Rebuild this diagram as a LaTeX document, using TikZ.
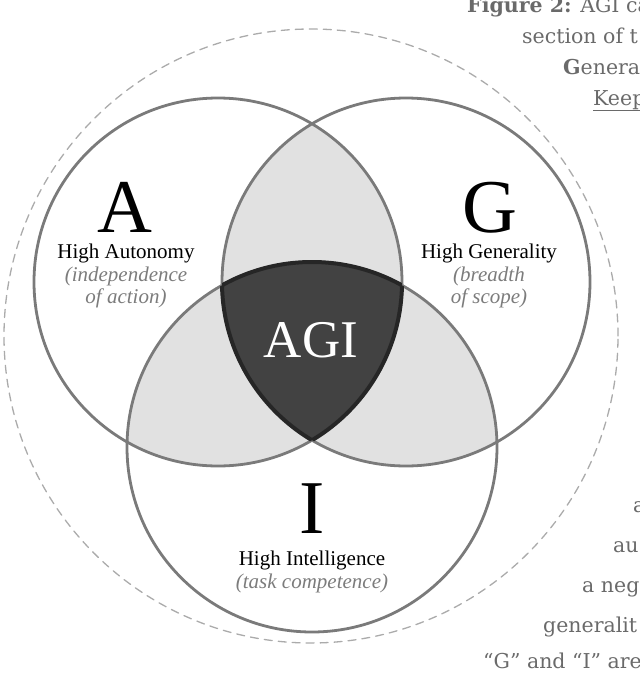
\documentclass[tikz,border=0pt]{standalone}
\usepackage{fontspec}
\setmainfont{Liberation Serif}
\newfontfamily\sidefont{DejaVu Serif}
\usetikzlibrary{positioning}

\definecolor{ringgray}{HTML}{7A7A7A}
\definecolor{dashgray}{HTML}{ABABAB}
\definecolor{pairfill}{HTML}{E1E1E1}
\definecolor{agifill}{HTML}{424242}
\definecolor{notegray}{HTML}{7C7C7C}
\definecolor{sidegray}{HTML}{6A6A6A}

\tikzset{
  bigletter/.style={font=\fontsize{76}{76}\selectfont, anchor=base, inner sep=0pt},
  mainlabel/.style={font=\fontsize{21}{21}\selectfont, anchor=base, inner sep=1pt},
  notelabel/.style={font=\fontsize{21}{21}\selectfont\itshape, text=notegray, anchor=base, inner sep=1pt},
  sidetext/.style={font=\sidefont\fontsize{20.5}{20.5}\selectfont, text=sidegray, anchor=base west, inner sep=0pt},
}

\begin{document}
\begin{tikzpicture}[x=1pt, y=-1pt, line cap=round, line join=round]
\useasboundingbox (0,0) rectangle (640,675);
\clip (0,0) rectangle (640,675);

% Mittelpunkte der drei Kreise
\coordinate (cA) at (218,282);
\coordinate (cG) at (406,282);
\coordinate (cI) at (312,447);
\coordinate (cR) at (311,336);

% gestrichelter Außenkreis
\draw[dashgray, line width=1.3pt, dash pattern=on 8pt off 6pt] (cR) circle (307pt);

% paarweise Schnittflächen
\begin{scope}
  \clip (cA) circle (184pt);
  \fill[pairfill] (cG) circle (184pt);
  \fill[pairfill] (cI) circle (185pt);
\end{scope}
\begin{scope}
  \clip (cG) circle (184pt);
  \fill[pairfill] (cI) circle (185pt);
\end{scope}

% dreifache Schnittfläche
\begin{scope}
  \clip (cA) circle (184pt);
  \clip (cG) circle (184pt);
  \fill[agifill] (cI) circle (185pt);
\end{scope}

% Kreislinien
\draw[ringgray, line width=2.8pt] (cA) circle (184pt);
\draw[ringgray, line width=2.8pt] (cG) circle (184pt);
\draw[ringgray, line width=2.8pt] (cI) circle (185pt);

% Rand der AGI-Fläche
\begin{scope}
  \clip (cA) circle (184pt);
  \clip (cG) circle (184pt);
  \draw[black!85, line width=4pt] (cI) circle (185pt);
\end{scope}
\begin{scope}
  \clip (cA) circle (184pt);
  \clip (cI) circle (185pt);
  \draw[black!85, line width=4pt] (cG) circle (184pt);
\end{scope}
\begin{scope}
  \clip (cG) circle (184pt);
  \clip (cI) circle (185pt);
  \draw[black!85, line width=4pt] (cA) circle (184pt);
\end{scope}

% Beschriftungen
\node[bigletter] (letA) at (125,232) {A};
\node[mainlabel] (labA) at (126,258) {High Autonomy};
\node[notelabel] (noteA1) at (126,281) {(independence};
\node[notelabel] (noteA2) at (126,303) {of action)};

\node[bigletter] (letG) at (490,232) {G};
\node[mainlabel] (labG) at (489,258) {High Generality};
\node[notelabel] (noteG1) at (489,281) {(breadth};
\node[notelabel] (noteG2) at (489,303) {of scope)};

\node[bigletter] (letI) at (312,533) {I};
\node[mainlabel] (labI) at (312,565) {High Intelligence};
\node[notelabel] (noteI) at (312,588) {(task competence)};

\node[font=\fontsize{53}{53}\selectfont, text=white, anchor=base] (agi) at (311,357) {AGI};

% abgeschnittener Fließtext rechts
\node[sidetext] (s1) at (467,12) {\textbf{Figure 2:} AGI ca};
\node[sidetext] (s2) at (522,43) {section of t};
\node[sidetext] (s3) at (563,74) {\textbf{G}enerali};
\node[sidetext] (s4) at (593,105) {\underline{Keep}};
\node[sidetext] (s5) at (633,512) {a};
\node[sidetext] (s6) at (613,552) {au};
\node[sidetext] (s7) at (582,592) {a neg};
\node[sidetext] (s8) at (543,632) {generalit};
\node[sidetext] (s9) at (483,668) {“G” and “I” are};

\end{tikzpicture}
\end{document}
